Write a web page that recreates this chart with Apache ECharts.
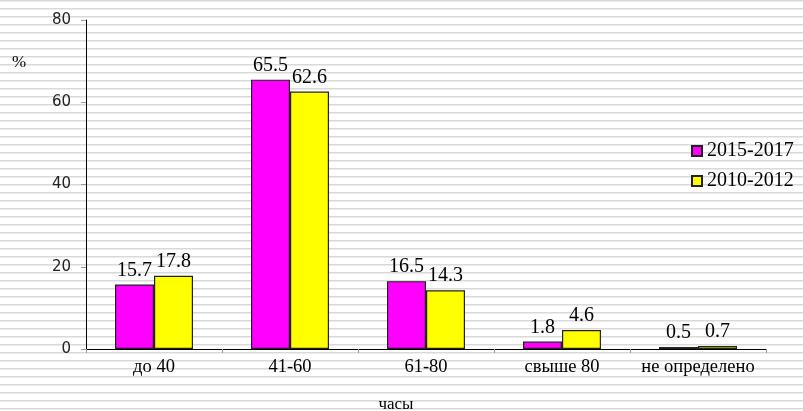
<!DOCTYPE html>
<html>
<head>
<meta charset="utf-8">
<script src="https://cdn.jsdelivr.net/npm/echarts@6/dist/echarts.min.js"></script>
<style>
html, body { margin: 0; padding: 0; }
body {
  width: 803px; height: 411px; overflow: hidden;
  background: repeating-linear-gradient(to bottom, #d9d9d9 0px, #d9d9d9 1px, #ececec 1px, #ececec 2px, #ffffff 2px, #ffffff 8px);
}
#chart { width: 803px; height: 411px; }
</style>
</head>
<body>
<div id="chart"></div>
<script>
const categories = ['до 40', '41-60', '61-80', 'свыше 80', 'не определено'];
const series2015 = [15.7, 65.5, 16.5, 1.8, 0.5];
const series2010 = [17.8, 62.6, 14.3, 4.6, 0.7];
const seriesNames = ['2015-2017', '2010-2012'];
const yTicks = { min: 0, max: 80, interval: 20 };

const serif = '"Liberation Serif", "Times New Roman", serif';
const chart = echarts.init(document.getElementById('chart'));
const labelCfg = {
  show: true, position: 'top', distance: 4,
  fontFamily: serif, fontSize: 20, color: '#000'
};
chart.setOption({
  backgroundColor: 'transparent',
  animation: false,
  grid: { left: 86, right: 37, top: 20, bottom: 62, containLabel: false, outerBoundsMode: 'none' },
  legend: {
    orient: 'vertical', left: 686, top: 135,
    icon: 'rect', itemWidth: 10, itemHeight: 10, itemGap: 8,
    textStyle: { fontFamily: serif, fontSize: 20, color: '#000', lineHeight: 22 },
    data: seriesNames
  },
  xAxis: {
    type: 'category', data: categories,
    name: 'часы', nameLocation: 'middle', nameGap: 47,
    nameTextStyle: { fontFamily: serif, fontSize: 17, color: '#000', padding: [0, 60, 0, 0] },
    axisLine: { lineStyle: { color: '#000', width: 1 } },
    axisTick: { show: true, length: 4, lineStyle: { color: '#999' } },
    axisLabel: { interval: 0, hideOverlap: false, fontFamily: serif, fontSize: 18.5, color: '#000', margin: 9 }
  },
  yAxis: {
    type: 'value', min: yTicks.min, max: yTicks.max, interval: yTicks.interval,
    axisLine: { show: true, lineStyle: { color: '#000', width: 1 } },
    axisTick: { show: true, length: 5, lineStyle: { color: '#999' } },
    splitLine: { show: false },
    axisLabel: { fontFamily: '"DejaVu Sans", sans-serif', fontSize: 15, color: '#222', margin: 15 }
  },
  graphic: [{
    type: 'text', left: 12, top: 54,
    style: { text: '%', fontFamily: serif, fontSize: 17, fill: '#000' }
  }],
  series: [
    {
      name: seriesNames[0], type: 'bar', data: series2015,
      barWidth: 39, barGap: '0%',
      itemStyle: { color: '#ff00ff', borderColor: '#222', borderWidth: 1.2 },
      label: labelCfg
    },
    {
      name: seriesNames[1], type: 'bar', data: series2010,
      barWidth: 39,
      itemStyle: { color: '#ffff00', borderColor: '#222', borderWidth: 1.2 },
      label: labelCfg
    }
  ]
});
</script>
</body>
</html>
